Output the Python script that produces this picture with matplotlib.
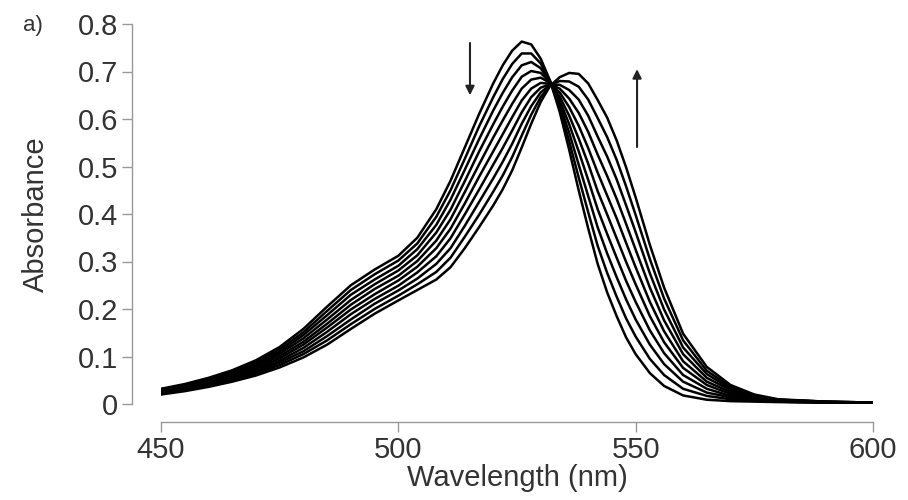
import matplotlib
matplotlib.use('Agg')
import matplotlib.pyplot as plt

plt.rcParams['font.family'] = ['Liberation Sans', 'DejaVu Sans']

wavelength = [450, 455, 460, 465, 470, 475, 480, 485, 490, 495, 500, 504, 508, 511, 514,
              517, 520, 522, 524, 526, 528, 530, 532, 534, 536, 538, 540, 542, 544, 546,
              548, 550, 553, 556, 560, 565, 570, 575, 580, 590, 600]

# absorbance spectra, first (526 nm peak) to last (537 nm peak)
abs_01 = [.032, .042, .055, .071, .092, .120, .158, .205, .250, .283, .312, .350, .410, .470, .540,
          .610, .675, .713, .744, .763, .757, .727, .680, .615, .535, .450, .370, .295, .235, .185,
          .140, .105, .065, .038, .018, .009, .006, .005, .004, .003, .003]
abs_02 = [.031, .040, .053, .068, .088, .115, .151, .196, .240, .273, .302, .338, .394, .450, .516,
          .584, .646, .684, .716, .738, .738, .717, .679, .623, .553, .477, .404, .333, .276, .226,
          .180, .142, .095, .061, .032, .017, .010, .007, .005, .003, .003]
abs_03 = [.029, .039, .051, .066, .085, .110, .145, .187, .230, .262, .291, .326, .377, .430, .493,
          .557, .618, .655, .688, .713, .720, .707, .678, .631, .571, .504, .438, .372, .317, .267,
          .220, .178, .125, .084, .047, .024, .014, .008, .005, .003, .003]
abs_04 = [.028, .037, .049, .063, .081, .106, .138, .178, .219, .252, .281, .313, .361, .409, .469,
          .531, .589, .626, .660, .689, .701, .697, .677, .639, .589, .532, .472, .410, .358, .308,
          .259, .215, .155, .107, .061, .032, .017, .010, .006, .004, .003]
abs_05 = [.027, .035, .047, .060, .078, .101, .131, .169, .209, .242, .270, .301, .344, .389, .446,
          .504, .561, .597, .632, .664, .683, .687, .676, .647, .607, .559, .506, .448, .399, .349,
          .299, .252, .185, .130, .076, .040, .021, .012, .007, .004, .003]
abs_06 = [.025, .034, .044, .058, .074, .096, .125, .161, .199, .231, .260, .289, .328, .369, .422,
          .478, .532, .568, .604, .639, .664, .676, .674, .656, .625, .586, .539, .487, .439, .391,
          .339, .288, .215, .153, .090, .047, .025, .013, .007, .004, .003]
abs_07 = [.024, .032, .042, .055, .071, .091, .118, .152, .189, .221, .249, .277, .311, .349, .399,
          .451, .504, .539, .576, .614, .646, .666, .673, .664, .643, .613, .573, .525, .480, .432,
          .379, .325, .245, .176, .105, .055, .029, .015, .008, .004, .003]
abs_08 = [.023, .030, .040, .052, .067, .087, .111, .143, .178, .211, .239, .264, .295, .328, .375,
          .425, .475, .510, .548, .590, .627, .656, .672, .672, .661, .641, .607, .563, .521, .473,
          .418, .362, .275, .199, .119, .063, .032, .017, .009, .005, .003]
abs_09 = [.021, .029, .038, .050, .064, .082, .105, .134, .168, .200, .228, .252, .278, .308, .352,
          .398, .447, .481, .520, .565, .609, .646, .671, .680, .679, .668, .641, .602, .562, .514,
          .458, .398, .305, .222, .134, .070, .036, .018, .009, .005, .003]
abs_10 = [.020, .027, .036, .047, .060, .077, .098, .125, .158, .190, .218, .240, .262, .288, .328,
          .372, .418, .452, .492, .540, .590, .636, .670, .688, .697, .695, .675, .640, .603, .555,
          .498, .435, .335, .245, .148, .078, .040, .020, .010, .005, .003]

spectra = [abs_01, abs_02, abs_03, abs_04, abs_05, abs_06, abs_07, abs_08, abs_09, abs_10]

x_ticks = [450, 500, 550, 600]
y_ticks = [0, 0.1, 0.2, 0.3, 0.4, 0.5, 0.6, 0.7, 0.8]
y_tick_labels = ['0', '0.1', '0.2', '0.3', '0.4', '0.5', '0.6', '0.7', '0.8']

# arrows: (x, start, end)
arrow_down = (515.1, 0.76, 0.65)
arrow_up = (550.3, 0.541, 0.705)

fig = plt.figure(figsize=(9.08, 5.0), dpi=100)
ax = fig.add_axes([0.1773, 0.192, 0.7841, 0.76])

for s in spectra:
    ax.plot(wavelength, s, color='black', linewidth=1.8)

for xa, y0, y1 in [arrow_down, arrow_up]:
    ax.annotate('', xy=(xa, y1), xytext=(xa, y0),
                arrowprops=dict(arrowstyle='-|>', color='#222222', lw=1.5, mutation_scale=13,
                                shrinkA=0, shrinkB=0))

ax.set_xlim(450, 600)
ax.set_ylim(0, 0.8)
ax.set_xticks(x_ticks)
ax.set_yticks(y_ticks)
ax.set_yticklabels(y_tick_labels)

for side in ['top', 'right']:
    ax.spines[side].set_visible(False)
ax.spines['left'].set_position(('outward', 21))
ax.spines['bottom'].set_position(('outward', 13))
for side in ['left', 'bottom']:
    ax.spines[side].set_color('#999999')
    ax.spines[side].set_linewidth(1.0)

ax.tick_params(axis='both', colors='#999999', labelcolor='#333333', labelsize=21,
               length=7, width=1.0, pad=3)
ax.set_xlabel('Wavelength (nm)', fontsize=21, color='#333333', labelpad=0)
ax.set_ylabel('Absorbance', fontsize=21, color='#333333', labelpad=20)

fig.text(0.025, 0.95, 'a)', fontsize=16, color='#333333', va='center')

fig.savefig('out.png', dpi=100)
